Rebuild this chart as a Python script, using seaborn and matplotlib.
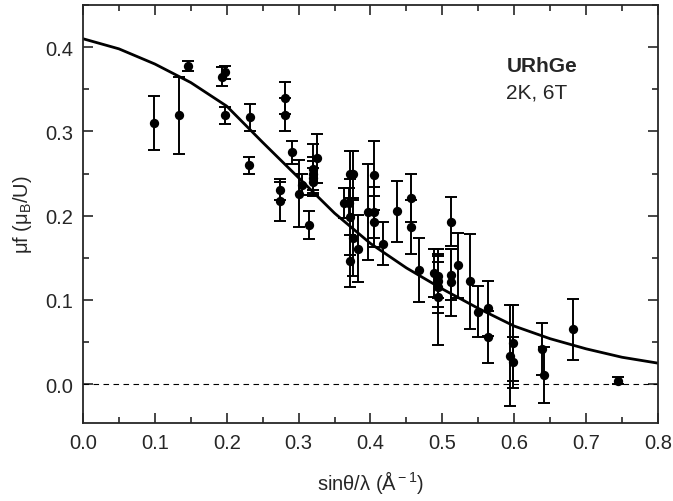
import numpy as np
import pandas as pd
import matplotlib
matplotlib.use("Agg")
import matplotlib.pyplot as plt
import seaborn as sns
from matplotlib.ticker import MultipleLocator

# --- measured points: sin(theta)/lambda, moment*f, error ---
q_data = [0.099, 0.133, 0.146, 0.193, 0.198, 0.197, 0.232, 0.231, 0.281, 0.281,
          0.274, 0.274, 0.291, 0.300, 0.305, 0.315, 0.326, 0.320, 0.320, 0.320,
          0.320, 0.363, 0.370, 0.372, 0.376, 0.372, 0.372, 0.376, 0.382, 0.405,
          0.396, 0.405, 0.405, 0.417, 0.437, 0.457, 0.457, 0.467, 0.489, 0.494,
          0.494, 0.494, 0.494, 0.512, 0.512, 0.512, 0.522, 0.539, 0.549, 0.563,
          0.563, 0.598, 0.594, 0.598, 0.638, 0.642, 0.682, 0.745]
mf_data = [0.310, 0.319, 0.378, 0.365, 0.370, 0.319, 0.317, 0.260, 0.340, 0.320,
           0.231, 0.217, 0.275, 0.226, 0.237, 0.189, 0.268, 0.256, 0.250, 0.245,
           0.240, 0.215, 0.215, 0.249, 0.249, 0.198, 0.146, 0.174, 0.161, 0.248,
           0.204, 0.204, 0.193, 0.167, 0.205, 0.221, 0.187, 0.136, 0.132, 0.128,
           0.122, 0.115, 0.103, 0.193, 0.130, 0.121, 0.141, 0.122, 0.086, 0.090,
           0.056, 0.049, 0.034, 0.026, 0.042, 0.011, 0.065, 0.004]
mf_err = [0.032, 0.046, 0.006, 0.011, 0.008, 0.010, 0.016, 0.010, 0.019, 0.020,
          0.012, 0.023, 0.014, 0.040, 0.013, 0.017, 0.029, 0.029, 0.020, 0.020,
          0.017, 0.018, 0.018, 0.028, 0.028, 0.045, 0.031, 0.045, 0.040, 0.041,
          0.057, 0.030, 0.030, 0.025, 0.036, 0.028, 0.032, 0.038, 0.029, 0.026,
          0.030, 0.030, 0.057, 0.029, 0.030, 0.040, 0.039, 0.056, 0.030, 0.033,
          0.031, 0.045, 0.060, 0.030, 0.031, 0.033, 0.036, 0.004]

# --- fitted form factor curve ---
q_fit = [0.00, 0.05, 0.10, 0.15, 0.20, 0.25, 0.30, 0.35, 0.40,
         0.45, 0.50, 0.55, 0.60, 0.65, 0.70, 0.75, 0.80]
mf_fit = [0.410, 0.398, 0.380, 0.358, 0.330, 0.287, 0.245, 0.203, 0.167,
          0.138, 0.113, 0.090, 0.069, 0.054, 0.042, 0.032, 0.025]

df = pd.DataFrame({"q": q_data, "mf": mf_data, "err": mf_err})
fit = pd.DataFrame({"q": q_fit, "mf": mf_fit})

sns.set_style("ticks")
plt.rcParams["font.family"] = ["Liberation Sans", "DejaVu Sans"]
plt.rcParams["mathtext.fontset"] = "custom"
plt.rcParams["mathtext.rm"] = "Liberation Sans"
plt.rcParams["mathtext.it"] = "Liberation Sans:italic"

fig = plt.figure(figsize=(6.73, 5.02), dpi=100)
ax = fig.add_axes([0.1233, 0.1554, 0.8544, 0.8326])

# zero line
ax.axhline(0, color="black", lw=0.8, ls=(0, (5, 4)), zorder=1)

# fit curve
sns.lineplot(data=fit, x="q", y="mf", color="black", lw=2, ax=ax, zorder=2)

# error bars + points
ax.errorbar(df["q"], df["mf"], yerr=df["err"], fmt="none", ecolor="black",
            elinewidth=1.4, capsize=4, capthick=1.4, zorder=3)
sns.scatterplot(data=df, x="q", y="mf", color="black", s=45, edgecolor="black",
                linewidth=0, ax=ax, zorder=4)

ax.set_xlim(0, 0.8)
ax.set_ylim(-0.046, 0.45)
ax.xaxis.set_major_locator(MultipleLocator(0.1))
ax.xaxis.set_minor_locator(MultipleLocator(0.05))
ax.yaxis.set_major_locator(MultipleLocator(0.1))
ax.yaxis.set_minor_locator(MultipleLocator(0.05))
ax.tick_params(which="both", direction="in", top=True, right=True,
               labelsize=14.5, width=1.2, pad=7)
ax.tick_params(which="major", length=7)
ax.tick_params(which="minor", length=4)
ax.set_xticks(np.arange(0, 0.81, 0.1))
ax.set_xticklabels([f"{v:.1f}" for v in np.arange(0, 0.81, 0.1)])
ax.set_yticks(np.arange(0, 0.41, 0.1))
ax.set_yticklabels([f"{v:.1f}" for v in np.arange(0, 0.41, 0.1)])
for s in ax.spines.values():
    s.set_linewidth(1.3)

ax.set_xlabel(r"sinθ/λ (Å$^{\rm -1}$)", fontsize=14.5, labelpad=12)
ax.set_ylabel(r"μf (μ$_{\rm B}$/U)", fontsize=14.5, labelpad=8)

ax.text(0.589, 0.378, "URhGe", fontsize=15, fontweight="bold", ha="left", va="center")
ax.text(0.589, 0.347, "2K, 6T", fontsize=15, ha="left", va="center")

fig.savefig("out.png", dpi=100)
